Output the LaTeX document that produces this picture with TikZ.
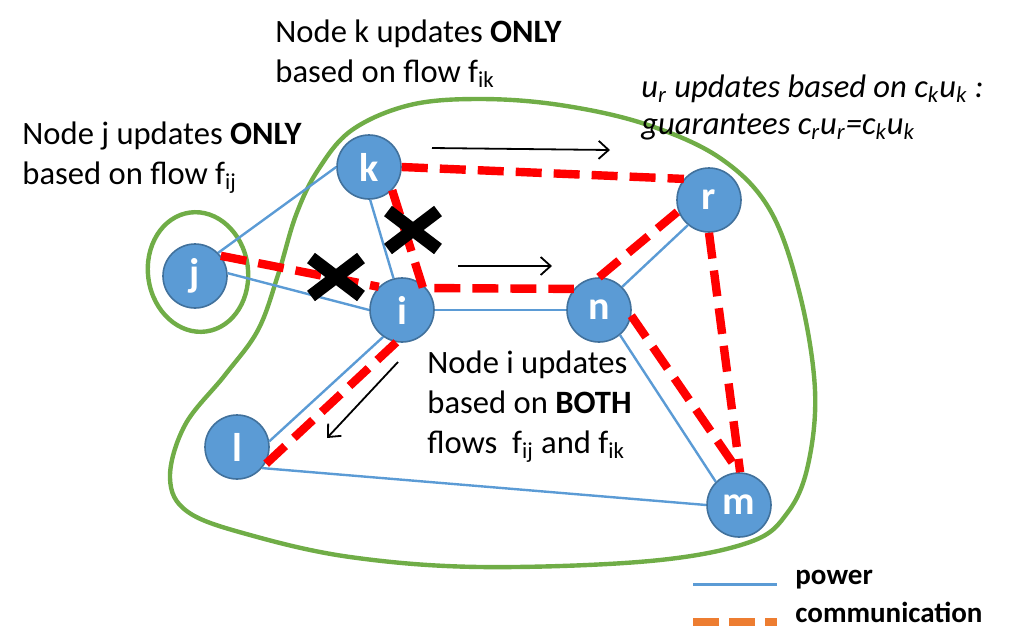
\documentclass[tikz,border=0pt]{standalone}
\usepackage{fontspec}
\setmainfont{Carlito}
\usetikzlibrary{arrows.meta}

\definecolor{busblue}{RGB}{91,155,213}
\definecolor{busedge}{RGB}{65,113,156}
\definecolor{groupgreen}{RGB}{112,173,71}
\definecolor{legendorange}{RGB}{237,125,49}

\tikzset{
  bus/.style={circle, fill=busblue, draw=busedge, line width=0.8pt, minimum size=32pt,
    inner sep=0pt, text=white, font=\fontsize{20}{20}\selectfont\bfseries},
  power/.style={busblue, line width=1.2pt},
  comm/.style={red, line width=4.2pt, dash pattern=on 13pt off 6pt},
  flow/.style={-{Straight Barb[length=5pt,width=9pt]}, line width=0.9pt},
  group/.style={groupgreen, line width=2.2pt},
  note/.style={anchor=north west, align=left, inner sep=0pt, font=\fontsize{16.3}{20}\selectfont},
  xmark/.style={line width=6.5pt},
}

\begin{document}
\begin{tikzpicture}[x=0.5pt, y=-0.5pt]
    \useasboundingbox (0,0) rectangle (1009,639);

    % Grupos
    \draw[group] plot[smooth cycle, tension=0.6] coordinates {
        (352,130) (410,105) (480,99) (560,105) (645,124) (720,158) (770,210)
        (800,295) (815,390) (808,465) (788,512) (750,542) (650,561)
        (480,567) (350,557) (250,535) (188,512) (170,478) (185,425)
        (225,375) (258,330) (278,275) (296,215) (318,170)};
    \draw[group, rotate around={8:(198,272)}] (198,272) ellipse [x radius=25pt, y radius=30pt];

    % Barras
    \node[bus] (k) at (369,167) {k};
    \node[bus] (r) at (709,200) {r};
    \node[bus] (j) at (195,276) {j};
    \node[bus] (i) at (402,310) {i};
    \node[bus] (n) at (599,310) {n};
    \node[bus] (l) at (237,447) {l};
    \node[bus] (m) at (739,505) {m};

    % Linhas de potencia
    \draw[power] (j.45) -- (k.180);
    \draw[power] (j.5) -- (i.180);
    \draw[power] (k.-88) -- (i.105);
    \draw[power] (i.0) -- (n.180);
    \draw[power] (i.235) -- (l.10);
    \draw[power] (l.-40) -- (m.180);
    \draw[power] (n.45) -- (r.230);
    \draw[power] (n.-50) -- (m.135);

    % Comunicacao
    \coordinate (bend) at (423,288);
    \draw[comm] (j.38) -- (i.135);
    \draw[comm] (k.0) -- (r.140);
    \draw[comm] (k.-45) -- (bend) -- (n.140);
    \draw[comm] (n.90) -- (r.200);
    \draw[comm] (i.-100) -- (l.-35);
    \draw[comm] (n.-10) -- (m.90);
    \draw[comm] (r.-90) -- (m.88);

    % Links cortados
    \foreach \cx/\cy in {336/277, 413/230} {
        \draw[xmark] (\cx-25,\cy-19) -- (\cx+25,\cy+19);
        \draw[xmark] (\cx-25,\cy+19) -- (\cx+25,\cy-19);
    }

    % Fluxos
    \coordinate (fkA) at (432,148);
    \coordinate (fkB) at (610,150);
    \coordinate (fnA) at (458,266);
    \coordinate (fnB) at (552,266);
    \coordinate (flA) at (398,362);
    \coordinate (flB) at (327,438);
    \draw[flow] (fkA) -- (fkB);
    \draw[flow] (fnA) -- (fnB);
    \draw[flow] (flA) -- (flB);

    % Textos
    \node[note] (ktext) at (275,19) {Node k updates \textbf{ONLY}\\based on flow f\textsubscript{ik}};
    \node[note] (jtext) at (22,121) {Node j updates \textbf{ONLY}\\based on flow f\textsubscript{ij}};
    \node[note, font=\fontsize{16.3}{18.5}\selectfont\itshape] (rtext) at (641,74)
        {u\textsubscript{r} updates based on c\textsubscript{k}u\textsubscript{k} :\\guarantees c\textsubscript{r}u\textsubscript{r}=c\textsubscript{k}u\textsubscript{k}};
    \node[note] (itext) at (427,350) {Node i updates\\based on \textbf{BOTH}\\flows\ \ f\textsubscript{ij} and f\textsubscript{ik}};

    % Legenda
    \coordinate (powA) at (693,584);
    \coordinate (powB) at (777,584);
    \coordinate (comA) at (693,622);
    \coordinate (comB) at (777,622);
    \draw[power, line width=1.5pt] (powA) -- (powB);
    \draw[legendorange, line width=4pt, dash pattern=on 13pt off 5pt] (comA) -- (comB);
    \node[anchor=west, inner sep=0pt, font=\fontsize{14.5}{14.5}\selectfont\bfseries] (powtext) at (795,580) {power};
    \node[anchor=west, inner sep=0pt, font=\fontsize{14.5}{14.5}\selectfont\bfseries] (comtext) at (795,612) {communication};
\end{tikzpicture}
\end{document}
